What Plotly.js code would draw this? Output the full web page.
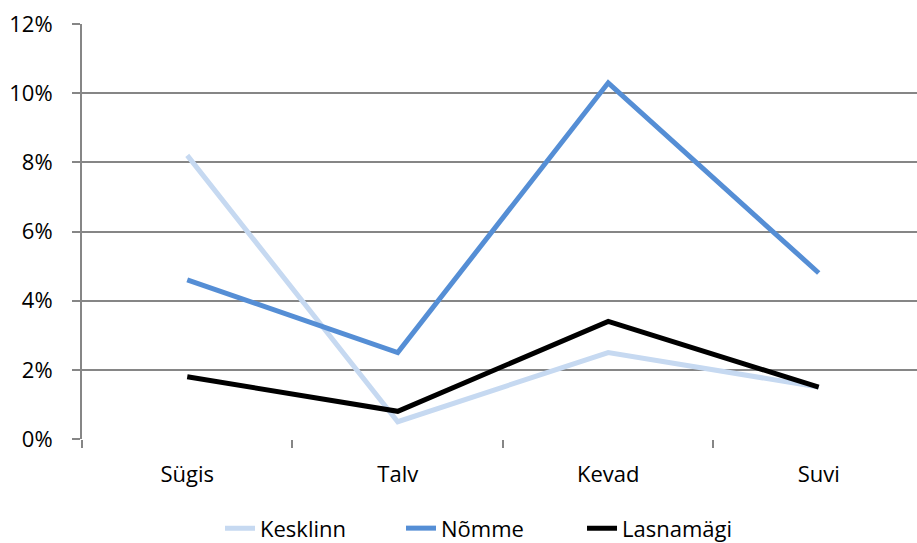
<!DOCTYPE html>
<html>
<head>
<meta charset="utf-8">
<script src="https://cdn.plot.ly/plotly-3.0.1.min.js"></script>
<style>html,body{margin:0;padding:0;background:#fff;}#chart{width:917px;height:543px;}</style>
</head>
<body>
<div id="chart"></div>
<script>
const seasons = ["Sügis", "Talv", "Kevad", "Suvi"];
const kesklinn = [8.2, 0.5, 2.5, 1.5];
const nomme = [4.6, 2.5, 10.3, 4.8];
const lasnamagi = [1.8, 0.8, 3.4, 1.5];
const seriesNames = ["Kesklinn", "Nõmme", "Lasnamägi"];
const seriesColors = ["#C6D9F1", "#558ED5", "#000000"];
const yTicks = [0, 2, 4, 6, 8, 10, 12];

const allSeries = [kesklinn, nomme, lasnamagi];
const traces = allSeries.map((vals, i) => ({
  type: "scatter",
  mode: "lines",
  x: seasons,
  y: vals,
  name: seriesNames[i],
  line: {color: seriesColors[i], width: 5},
  hoverinfo: "x+y+name"
}));

const font = {family: "Open Sans, Noto Sans, sans-serif", size: 22, color: "#000"};

const layout = {
  width: 917,
  height: 543,
  margin: {l: 82, r: 0, t: 24, b: 104},
  paper_bgcolor: "#fff",
  plot_bgcolor: "#fff",
  font: font,
  showlegend: true,
  legend: {
    orientation: "h",
    xref: "container",
    x: 0.536, xanchor: "center",
    yref: "container",
    y: 0.027, yanchor: "middle",
    font: font,
    itemwidth: 30,
    entrywidth: 136,
    entrywidthmode: "pixels",
    tracegroupgap: 0
  },
  xaxis: {
    type: "category",
    range: [-0.5, 3.467],
    showgrid: false,
    zeroline: false,
    showline: false,
    ticks: "outside",
    tickson: "boundaries",
    ticklen: 8,
    tickwidth: 2,
    tickcolor: "#868686",
    ticklabelstandoff: 20,
    tickfont: font,
    fixedrange: true
  },
  yaxis: {
    range: [0, 12],
    tickvals: yTicks,
    ticktext: yTicks.map(v => v + "%"),
    showgrid: true,
    gridcolor: "#868686",
    gridwidth: 2,
    zeroline: false,
    showline: true,
    linecolor: "#868686",
    linewidth: 2,
    ticks: "outside",
    ticklen: 8,
    tickwidth: 2,
    tickcolor: "#868686",
    ticklabelstandoff: 15,
    tickfont: font,
    fixedrange: true
  }
};

Plotly.newPlot("chart", traces, layout, {displayModeBar: false, staticPlot: true});
</script>
</body>
</html>
